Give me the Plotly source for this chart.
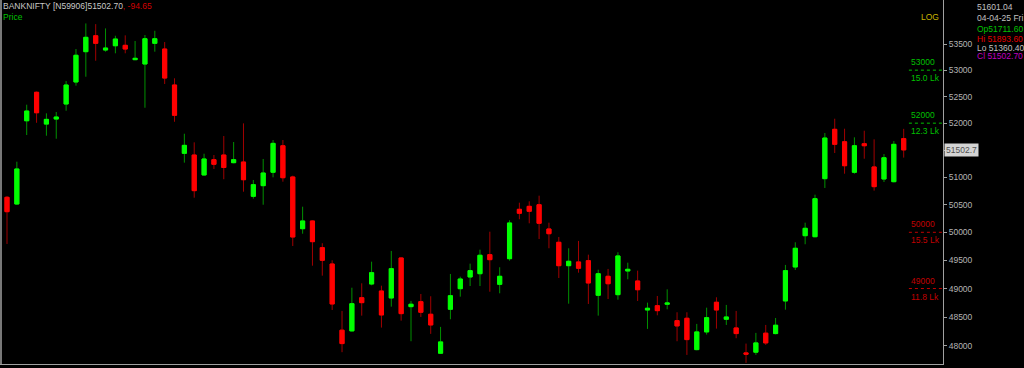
import math
import plotly.graph_objects as go

# ---- data (daily OHLC, BANKNIFTY) ----
opens = [50633, 50511, 52045, 52580, 51983, 52077, 52359, 52775, 53353, 53659,
         53385, 53467, 53475, 53200, 53117, 53513, 53404, 52718, 51439, 51408,
         51041, 51322, 51408, 51267, 51279, 50651, 50845, 51090, 51579, 51004,
         50065, 50204, 49725, 49434, 48272, 48260, 48839, 49080, 48956, 48834,
         49541, 48682, 48769, 48549, 47874, 48636, 48997, 49204, 49262, 49600,
         49074, 49528, 50415, 50469, 50498, 50060, 49821, 49404, 49470, 49493,
         48881, 49216, 48892, 49310, 49133, 48624, 48699, 48724, 48438, 48479,
         47936, 48242, 48759, 48462, 48311, 47880, 47892, 48220, 48213, 48782,
         49381, 49939, 49921, 50973, 51885, 51654, 51090, 51617, 51188, 50967,
         50918, 51711.60]
highs = [50657, 51285, 52346, 52595, 52184, 52209, 52794, 53404, 53897, 53884,
         53801, 53659, 53667, 53558, 53673, 53755, 53538, 52845, 51803, 51643,
         51432, 51408, 51760, 51649, 51996, 50949, 51335, 51686, 51686, 51028,
         50462, 50215, 49804, 49500, 48607, 49014, 49092, 49475, 49050, 49666,
         49550, 48782, 48904, 48864, 48329, 49257, 49209, 49440, 49689, 50011,
         49376, 50217, 50535, 50560, 50662, 50173, 49916, 49714, 49845, 49600,
         49333, 49346, 49643, 49457, 49316, 48752, 48869, 48986, 48584, 48584,
         48381, 48664, 48846, 48712, 48607, 48040, 48225, 48363, 48484, 49417,
         49821, 50173, 50681, 51816, 52083, 51896, 51736, 51859, 51699, 51426,
         51667, 51893.60]
lows = [49791, 50495, 51779, 52007, 51766, 51710, 52233, 52705, 52875, 53180,
        53353, 53322, 53322, 53190, 52289, 53353, 52737, 52026, 51267, 50626,
        51030, 51151, 50963, 51255, 50735, 50608, 50498, 50998, 50918, 49755,
        49975, 49404, 49227, 48624, 47892, 48250, 48525, 49057, 48317, 48682,
        48438, 48081, 48502, 48208, 47862, 48462, 48857, 49044, 49044, 48944,
        48916, 49493, 50235, 50162, 49880, 49714, 49186, 48734, 49280, 48729,
        48525, 48816, 48804, 49163, 48781, 48294, 48531, 48636, 48081, 47845,
        47925, 48196, 48299, 48363, 48133, 47708, 47845, 48017, 48200, 48629,
        49328, 49786, 49911, 50803, 51445, 51064, 51064, 51340, 50754, 50912,
        50905, 51360.40]
closes = [50372, 51151, 52227, 52195, 52071, 52115, 52718, 53284, 53629, 53513,
          53423, 53596, 53404, 53226, 53602, 53602, 52850, 52147, 51587, 50754,
          51335, 51237, 51178, 51322, 50954, 50863, 51077, 51624, 50991, 49916,
          50204, 49832, 49500, 48729, 48040, 48734, 48752, 49280, 48537, 49351,
          48560, 48724, 48584, 48363, 48069, 48874, 49168, 49316, 49589, 49511,
          49216, 50168, 50343, 50379, 50162, 49975, 49404, 49482, 49358, 49098,
          49262, 49085, 49577, 49340, 48979, 48654, 48612, 48747, 48346, 48109,
          48242, 48490, 48624, 48502, 48213, 47857, 48052, 48052, 48358, 49316,
          49714, 50072, 50608, 51723, 51606, 51211, 51580, 51580, 50827, 51358,
          51606, 51502.70]

tick_vals = [48000, 48500, 49000, 49500, 50000, 50500, 51000, 51500,
             52000, 52500, 53000, 53500]
# 51500 label is hidden under the last-price box in the reference
tick_text = ["" if v == 51500 else str(v) for v in tick_vals]

level_vals = [53000, 52000, 50000, 49000]
level_vols = ["15.0 Lk", "12.3 Lk", "15.5 Lk", "11.8 Lk"]
level_cols = ["#00c000", "#00c000", "#c00000", "#c00000"]

symbol = "BANKNIFTY [N59906]"
change = "-94.65"
info_top = "51601.04"
info_date = "04-04-25 Fri"

x = list(range(len(opens)))
body_hi = [max(o, c) for o, c in zip(opens, closes)]
body_lo = [min(o, c) for o, c in zip(opens, closes)]

W, H = 1024, 368
FONT = "Liberation Sans"
GRAY = "#b4b4b4"

fig = go.Figure()
# wicks (dark)
fig.add_trace(go.Candlestick(
    x=x, open=opens, high=highs, low=lows, close=closes,
    increasing=dict(line=dict(color="#009000", width=1), fillcolor="#009000"),
    decreasing=dict(line=dict(color="#a00000", width=1), fillcolor="#a00000"),
    whiskerwidth=0, hoverinfo="skip", showlegend=False))
# bodies (bright)
fig.add_trace(go.Candlestick(
    x=x, open=opens, high=body_hi, low=body_lo, close=closes,
    increasing=dict(line=dict(color="#00ff00", width=1), fillcolor="#00ff00"),
    decreasing=dict(line=dict(color="#ff0000", width=1), fillcolor="#ff0000"),
    whiskerwidth=0, hoverinfo="skip", showlegend=False))

x_end = 94.99
x_lab = 91.53
for lv, col in zip(level_vals, level_cols):
    fig.add_trace(go.Scatter(x=[x_lab, x_end], y=[lv, lv], mode="lines",
                             line=dict(color=col, width=1, dash="dot"),
                             hoverinfo="skip", showlegend=False))

ann = []
def ptxt(px, py, text, color, size=8.5, xanchor="left", yanchor="middle", **kw):
    ann.append(dict(xref="paper", yref="paper", x=px / W, y=1 - py / H,
                    text=text, showarrow=False, xanchor=xanchor, yanchor=yanchor,
                    font=dict(family=FONT, size=size, color=color), **kw))

ptxt(1, 6, f"{symbol}{closes[-1]:.2f}<span style='color:#d00000'>, {change}</span>", "#c8c8c8")
ptxt(1, 17, "Price", "#00c000")
ptxt(941, 17, "LOG", "#c8b400", xanchor="right")

ptxt(975, 7, info_top, "#c0c0c0")
ptxt(975, 18, info_date, "#c0c0c0")
ptxt(975, 29, f"Op{opens[-1]:.2f}", "#00c000")
ptxt(975, 38.5, f"Hi {highs[-1]:.2f}", "#e00000")
ptxt(975, 47.5, f"Lo {lows[-1]:.2f}", "#c0c0c0")
ptxt(975, 56.5, f"Cl {closes[-1]:.2f}", "#c000c0")

for lv, vol, col in zip(level_vals, level_vols, level_cols):
    ann.append(dict(xref="paper", yref="y", x=909 / W, y=math.log10(lv),
                    text=str(lv), showarrow=False, xanchor="left", yanchor="bottom",
                    yshift=1, font=dict(family=FONT, size=8.5, color=col)))
    ann.append(dict(xref="paper", yref="y", x=909 / W, y=math.log10(lv),
                    text=vol, showarrow=False, xanchor="left", yanchor="top",
                    yshift=-1, font=dict(family=FONT, size=8.5, color=col)))

ann.append(dict(xref="paper", yref="y", x=944 / W, y=math.log10(closes[-1]),
                text=f"{closes[-1]:.1f}", showarrow=False, xanchor="left",
                yanchor="middle", bgcolor="#d4d4d4", borderpad=1,
                font=dict(family=FONT, size=8.5, color="#505050")))

y_lo, y_hi = 47689, 54353
fig.update_layout(
    width=W, height=H,
    margin=dict(l=0, r=0, t=0, b=0),
    paper_bgcolor="#000000", plot_bgcolor="#000000",
    boxgap=0.4,
    showlegend=False,
    annotations=ann,
    xaxis=dict(domain=[0, 943 / W], range=[-0.71, x_end], showgrid=False,
               zeroline=False, showticklabels=False, ticks="",
               showline=True, linecolor="#a0a0a0", linewidth=1,
               rangeslider=dict(visible=False), fixedrange=True),
    yaxis=dict(domain=[4 / H, 1], type="log",
               range=[math.log10(y_lo), math.log10(y_hi)],
               side="right", anchor="x", showgrid=False, zeroline=False,
               showline=True, linecolor="#a0a0a0", linewidth=1,
               ticks="outside", ticklen=3, tickcolor="#a0a0a0",
               tickvals=tick_vals, ticktext=tick_text,
               tickfont=dict(family=FONT, size=8.5, color=GRAY), fixedrange=True),
    shapes=[dict(type="line", xref="paper", yref="paper", x0=1 / W, x1=1 / W,
                 y0=4 / H, y1=1, line=dict(color="#a0a0a0", width=1.5))],
)

fig.write_html("out.html")
